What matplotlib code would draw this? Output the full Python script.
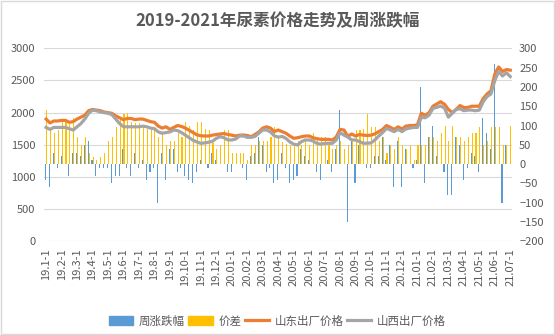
import numpy as np
import matplotlib
matplotlib.use("Agg")
import matplotlib.pyplot as plt
from matplotlib.patches import Patch, Rectangle
from matplotlib.lines import Line2D

plt.rcParams['font.family'] = ['Noto Sans CJK SC', 'DejaVu Sans']

title = '2019-2021年尿素价格走势及周涨跌幅'

# one label every 4 weeks
week_labels = ['19.1-1', '19.2-1', '19.3-1', '19.4-1', '19.5-1', '19.6-1', '19.7-1', '19.8-1',
               '19.9-1', '19.10-1', '19.11-1', '19.12-1',
               '20.01-1', '20.02-1', '20.03-1', '20.04-1', '20.05-1', '20.06-1', '20.07-1',
               '20.08-1', '20.09-1', '20.10-1', '20.11-1', '20.12-1',
               '21.01-1', '21.02-1', '21.03-1', '21.04-1', '21.05-1', '21.06-1', '21.07-1']

# 山东出厂价格 (元/吨, weekly)
sd_price = [1900, 1840, 1870, 1870, 1880, 1880, 1850, 1860, 1900, 1930,
            1960, 2030, 2050, 2040, 2030, 2010, 2000, 1990, 1950, 1920,
            1890, 1910, 1910, 1890, 1900, 1900, 1880, 1860, 1850, 1790,
            1760, 1780, 1740, 1770, 1800, 1785, 1760, 1725, 1690, 1655,
            1640, 1637, 1637, 1650, 1660, 1668, 1675, 1660, 1650, 1637,
            1650, 1652, 1645, 1626, 1660, 1700, 1760, 1780, 1760, 1705,
            1730, 1705, 1680, 1637, 1601, 1610, 1625, 1637, 1637, 1610,
            1595, 1585, 1585, 1585, 1575, 1620, 1740, 1730, 1630, 1668,
            1637, 1660, 1650, 1645, 1650, 1670, 1705, 1740, 1800, 1770,
            1740, 1780, 1745, 1790, 1800, 1800, 1810, 1990, 1960, 2000,
            2100, 2135, 2170, 2130, 2050, 2000, 2050, 2110, 2080, 2080,
            2100, 2100, 2100, 2220, 2290, 2340, 2600, 2710, 2640, 2670,
            2660]

# 山西出厂价格
sx_price = [1770, 1740, 1770, 1770, 1770, 1770, 1750, 1730, 1780, 1830,
            1900, 1990, 2040, 2030, 2010, 2000, 1990, 1970, 1900, 1830,
            1780, 1780, 1780, 1780, 1780, 1790, 1780, 1760, 1750, 1700,
            1680, 1690, 1700, 1730, 1720, 1690, 1650, 1610, 1570, 1545,
            1523, 1530, 1540, 1555, 1600, 1626, 1610, 1575, 1575, 1590,
            1637, 1637, 1616, 1616, 1630, 1680, 1730, 1730, 1700, 1640,
            1620, 1630, 1600, 1545, 1510, 1497, 1549, 1575, 1575, 1560,
            1523, 1510, 1523, 1523, 1523, 1575, 1690, 1650, 1620, 1575,
            1575, 1550, 1525, 1525, 1530, 1575, 1637, 1690, 1755, 1730,
            1705, 1740, 1705, 1745, 1760, 1770, 1770, 1927, 1920, 1960,
            2067, 2082, 2103, 2070, 1930, 1990, 2050, 2060, 2030, 2040,
            2040, 2030, 2040, 2170, 2250, 2290, 2500, 2640, 2570, 2620,
            2560]

# 周涨跌幅
weekly_chg = [-40, -60, 30, -10, 20, 0, -30, 30, 30, 20,
              50, 60, 10, -30, -10, -10, -10, -50, -30, -30,
              40, -10, -30, 30, -10, 10, -40, -20, -10, -100,
              30, -40, 40, 40, -20, -10, -30, -40, -50, -20,
              10, 0, -10, 30, 10, 0, 0, -20, -20, 0,
              0, -10, -40, 20, 30, 70, 50, -20, -10, -50,
              -40, 30, -10, -50, -40, -30, 40, 20, 10, 0,
              -20, -40, 0, 10, -20, 40, 140, 0, -150, 60,
              -50, 50, 0, -10, -10, 20, 20, 70, 10, 50,
              -60, 60, -60, 40, 0, -10, 10, 200, -50, 70,
              100, 20, 0, -20, -80, -80, 70, 50, -40, -10,
              30, 20, -20, 120, 80, 40, 260, 0, -100, 50,
              0]

# 价差
spread = [140, 88, 80, 88, 110, 110, 105, 119, 71, 50,
          71, 28, 19, 11, 19, 28, 60, 71, 97, 114,
          130, 132, 110, 107, 107, 97, 90, 88, 88, 71,
          80, 50, 60, 60, 80, 71, 110, 99, 88, 110,
          110, 90, 88, 55, 40, 50, 88, 88, 28, 28,
          28, 28, 11, 50, 50, 60, 60, 60, 71, 97,
          73, 58, 51, 50, 51, 60, 50, 60, 50, 80,
          71, 71, 71, 50, 39, 50, 60, 39, 50, 62,
          88, 88, 90, 130, 97, 97, 60, 69, 28, 50,
          39, 69, 50, 39, 50, 11, 50, 50, 50, 69,
          69, 60, 80, 99, 60, 99, 69, 69, 60, 69,
          80, 80, 97, 50, 60, 97, 97, 97, 50, 50,
          99]

price_ticks = list(range(0, 3001, 500))
chg_ticks = list(range(-200, 301, 50))

BLUE = '#5B9BD5'
GOLD = '#FFC000'
ORANGE = '#ED7D31'
GREY = '#A5A5A5'
TXT = '#595959'
GRID = '#D9D9D9'

fig = plt.figure(figsize=(5.55, 3.35), dpi=100)
ax_bar = fig.add_axes([0.0796, 0.2797, 0.8433, 0.5761])
ax_line = ax_bar.twinx()
ax_bar.yaxis.tick_right()
ax_line.yaxis.tick_left()

x = np.arange(len(sd_price))

# horizontal grid follows the price axis
for v in price_ticks:
    f = (v - price_ticks[0]) / (price_ticks[-1] - price_ticks[0])
    ax_bar.add_line(Line2D([0, 1], [f, f], transform=ax_bar.transAxes,
                           color=GRID, lw=0.8, zorder=0))

ax_bar.bar(x - 0.14, weekly_chg, width=0.28, color=BLUE, zorder=2)
ax_bar.bar(x + 0.14, spread, width=0.28, color=GOLD, zorder=2)

ax_line.plot(x, sd_price, color=ORANGE, lw=2.3, solid_joinstyle='round')
ax_line.plot(x, sx_price, color=GREY, lw=2.3, solid_joinstyle='round')

ax_bar.set_xlim(-0.5, len(x) - 0.5)
ax_bar.set_ylim(chg_ticks[0], chg_ticks[-1])
ax_line.set_ylim(price_ticks[0], price_ticks[-1])
ax_bar.set_yticks(chg_ticks)
ax_line.set_yticks(price_ticks)
ax_bar.set_xticks(x[::4])
ax_bar.set_xticklabels(week_labels, rotation=90)

for a in (ax_bar, ax_line):
    for s in a.spines.values():
        s.set_visible(False)
    a.tick_params(length=0, labelsize=8, colors=TXT)
ax_bar.tick_params(axis='x', pad=5)
ax_bar.tick_params(axis='y', pad=5)
ax_line.tick_params(axis='y', pad=6.5)

fig.text(0.5, 1 - 21 / 335, title, ha='center', va='center',
         fontsize=12, weight='bold', color=TXT)

handles = [Patch(color=BLUE), Patch(color=GOLD),
           Line2D([], [], color=ORANGE, lw=2.3),
           Line2D([], [], color=GREY, lw=2.3)]
names = ['周涨跌幅', '价差', '山东出厂价格', '山西出厂价格']
fig.legend(handles, names, loc='center', bbox_to_anchor=(0.5, 14 / 335), ncol=4,
           frameon=False, fontsize=8.3, handlelength=2.1, handletextpad=0.5,
           columnspacing=0.3, labelcolor=TXT)

fig.patches.append(Rectangle((0.001, 0.002), 0.997, 0.996, transform=fig.transFigure,
                             fill=False, edgecolor=GRID, lw=1))

fig.savefig('out.png', dpi=100)
